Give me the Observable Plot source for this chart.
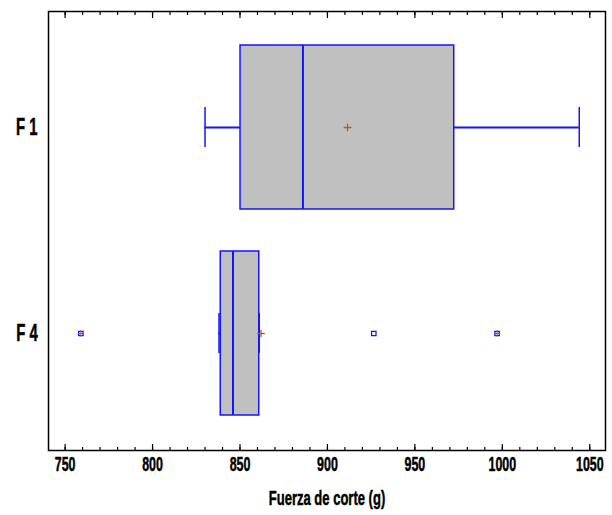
<!DOCTYPE html>
<html>
<head>
<meta charset="utf-8">
<script src="https://cdn.jsdelivr.net/npm/d3@7"></script>
<script src="https://cdn.jsdelivr.net/npm/@observablehq/plot@0.6"></script>
<style>
  html, body { margin: 0; padding: 0; background: #fff; }
  #chart { width: 612px; height: 515px; }
</style>
</head>
<body>
<div id="chart"></div>
<script>
// ---- data ----
const categories = ["F1", "F4"];
const categoryLabels = ["F 1", "F 4"];
const whiskerLow = [830, 838];
const q1 = [850.3, 839];
const medians = [886, 846];
const q3 = [972.5, 861];
const whiskerHigh = [1044, 861];
const means = [911.5, 862];
const outlierCategory = ["F4", "F4", "F4"];
const outlierValues = [759, 926.5, 997];
const outlierFar = [true, false, true];
const majorTicks = [750, 800, 850, 900, 950, 1000, 1050];
const minorTicks = d3.range(750, 1051, 10);
const xTitle = "Fuerza de corte (g)";

const boxes = categories.map((c, i) => ({
  cat: c, lo: whiskerLow[i], q1: q1[i], med: medians[i], q3: q3[i], hi: whiskerHigh[i], mean: means[i]
}));
const outliers = outlierValues.map((v, i) => ({cat: outlierCategory[i], value: v, far: outlierFar[i]}));

const blue = "#1414ff";
const brown = "#a5602a";
const font = "'Liberation Sans', Arial, sans-serif";

const tickAxis = (anchor, ticks, size) => Plot.axisX({
  anchor, ticks, tickSize: -size, tickFormat: () => "", label: null, stroke: "#000", strokeWidth: 1.2
});

const chart = Plot.plot({
  width: 612,
  height: 515,
  marginLeft: 48,
  marginRight: 7,
  marginTop: 11,
  marginBottom: 65,
  style: {fontFamily: font, background: "#fff"},
  x: {domain: [740.5, 1059]},
  y: {domain: categories, paddingInner: 0.203, paddingOuter: 0.162},
  marks: [
    // whiskers
    Plot.ruleY(boxes, {y: "cat", x1: "lo", x2: "q1", stroke: blue, strokeWidth: 2}),
    Plot.ruleY(boxes, {y: "cat", x1: "q3", x2: "hi", stroke: blue, strokeWidth: 2}),
    Plot.tickX(boxes, {y: "cat", x: "lo", stroke: blue, strokeWidth: 1.5, insetTop: 62, insetBottom: 62}),
    Plot.tickX(boxes, {y: "cat", x: "hi", stroke: blue, strokeWidth: 1.5, insetTop: 62, insetBottom: 62}),
    // boxes
    Plot.barX(boxes, {y: "cat", x1: "q1", x2: "q3", fill: "#c0c0c0", stroke: blue, strokeWidth: 1.5}),
    Plot.tickX(boxes, {y: "cat", x: "med", stroke: blue, strokeWidth: 2}),
    // means
    Plot.dot(boxes, {y: "cat", x: "mean", symbol: "plus", r: 2.6, stroke: brown, strokeWidth: 1.3}),
    // outliers
    Plot.dot(outliers, {y: "cat", x: "value", symbol: "square", r: 2.5, stroke: blue, strokeWidth: 1.3, fill: "none"}),
    Plot.dot(outliers.filter(d => d.far), {y: "cat", x: "value", symbol: "plus", r: 2.2, stroke: brown, strokeWidth: 1}),
    // axes
    tickAxis("bottom", minorTicks, 3),
    tickAxis("bottom", majorTicks, 6),
    tickAxis("top", minorTicks, 3),
    tickAxis("top", majorTicks, 6),
    Plot.axisX({anchor: "bottom", ticks: majorTicks, tickSize: 0, tickPadding: 6, tickFormat: d => String(d),
      label: xTitle, labelArrow: "none", labelAnchor: "center", labelOffset: 54, fontSize: 20, fill: "#000"}),
    Plot.axisY({anchor: "left", tickSize: 0, tickPadding: 11, tickFormat: (d) => categoryLabels[categories.indexOf(d)],
      label: null, fontSize: 24, fill: "#000"}),
    Plot.frame({stroke: "#000", strokeWidth: 1.5})
  ]
});

document.getElementById("chart").appendChild(chart);

// text sizes, weight, and a condensed look (squeeze horizontally around the anchor point)
d3.select(chart).selectAll("text").each(function () {
  if (this.textContent.includes("→")) this.textContent = this.textContent.replace(/\s*→\s*/, "");
  const s = this.textContent.trim();
  let size = null;
  if (s === xTitle) size = 21;
  else if (categoryLabels.includes(s)) size = 24;
  else if (majorTicks.map(String).includes(s)) size = 20;
  if (size) this.style.fontSize = size + "px";
  this.style.fontWeight = "bold";
  this.style.fill = "#000";
  this.style.stroke = "#000";
  this.style.strokeWidth = "0.5px";
  const b = this.getBBox();
  const anchor = getComputedStyle(this).textAnchor;
  const cx = anchor === "end" ? b.x + b.width : anchor === "start" ? b.x : b.x + b.width / 2;
  const t = this.getAttribute("transform") || "";
  this.setAttribute("transform", `${t} translate(${cx},0) scale(0.62,1) translate(${-cx},0)`);
});
</script>
</body>
</html>
